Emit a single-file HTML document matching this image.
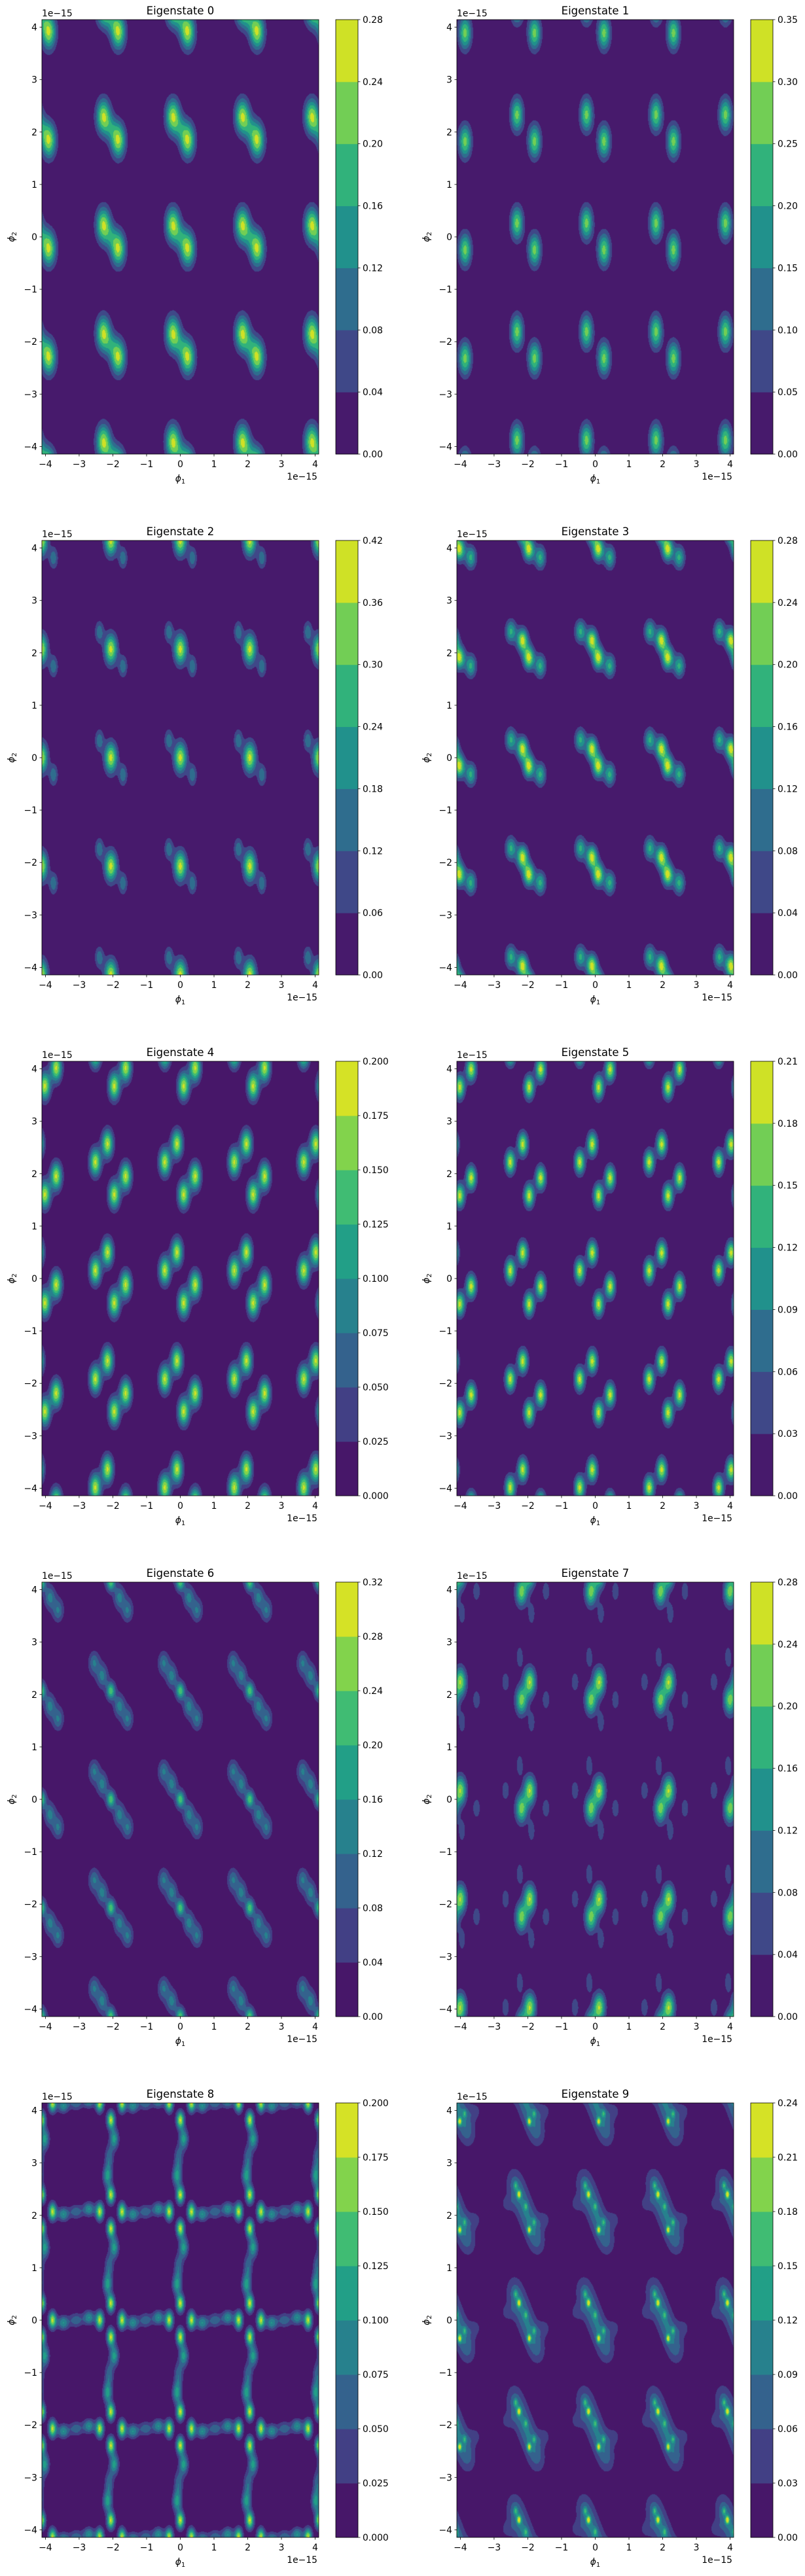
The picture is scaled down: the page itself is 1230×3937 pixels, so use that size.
<!DOCTYPE html>
<html><head><meta charset="utf-8">
<style>
html,body{margin:0;padding:0;background:#fff;}
#wrap{position:relative;width:1230px;height:3937px;overflow:hidden;}
canvas{position:absolute;}
svg{position:absolute;left:0;top:0;}
text{font-family:"DejaVu Sans","Liberation Sans",sans-serif;font-size:13.9px;fill:#000;}
</style></head>
<body>
<div id="wrap">
<svg id="ov" width="1230" height="3937"></svg>
</div>
<script>
// ---- chart data ----
const titles = ["Eigenstate 0","Eigenstate 1","Eigenstate 2","Eigenstate 3","Eigenstate 4","Eigenstate 5","Eigenstate 6","Eigenstate 7","Eigenstate 8","Eigenstate 9"];
const levelMax = [0.28,0.35,0.42,0.28,0.2,0.21,0.32,0.28,0.2,0.24];
const levelStep = [0.04,0.05,0.06,0.04,0.025,0.03,0.04,0.04,0.025,0.03];
const levelDecimals = [2,2,2,2,3,2,2,2,3,2];
const sigmaScale = [1.15,1.3,1.3,1.25,1.3,1.3,1.2,1.35,1.15,1.2];
const xTicks = [-4,-3,-2,-1,0,1,2,3,4];
const yTicks = [-4,-3,-2,-1,0,1,2,3,4];
const cellPeriodX = 2.06;
const cellPeriodY = 2.07;
// bumps per unit cell: [dx, dy, amplitude, sigmaX, sigmaY] (data units 1e-15)
const motif0 = [[-0.22,0.23,0.245,0.13,0.2],[0.22,-0.23,0.245,0.13,0.2],[0,0,0.08,0.12,0.15]];
const motif1 = [[-0.26,0.26,0.27,0.1,0.17],[0.26,-0.25,0.27,0.1,0.17]];
const motif2 = [[0,0,0.38,0.1,0.155],[-0.34,0.33,0.17,0.07,0.11],[0.36,-0.33,0.17,0.07,0.11]];
const motif3 = [[-0.44,0.34,0.17,0.09,0.12],[-0.1,0.17,0.26,0.09,0.12],[0.09,-0.16,0.26,0.09,0.12],[0.43,-0.32,0.17,0.09,0.12]];
const motif4 = [[-0.1,0.5,0.18,0.09,0.14],[-0.46,0.15,0.18,0.09,0.14],[0.44,-0.12,0.18,0.09,0.14],[0.1,-0.47,0.18,0.09,0.14]];
const motif5 = [[-0.09,0.49,0.19,0.08,0.12],[-0.46,0.15,0.19,0.08,0.12],[0.44,-0.15,0.19,0.08,0.12],[0.1,-0.49,0.19,0.08,0.12]];
const motif6 = [[-0.5,0.55,0.1,0.09,0.12],[-0.25,0.28,0.11,0.09,0.12],[0,0,0.2,0.07,0.09],[0.25,-0.28,0.11,0.09,0.12],[0.5,-0.55,0.1,0.09,0.12],
 [-0.4,0.42,0.035,0.17,0.17],[0,0,0.03,0.17,0.17],[0.4,-0.42,0.035,0.17,0.17]];
const motif7 = [[0.12,0.17,0.24,0.09,0.14],[-0.13,-0.18,0.22,0.09,0.14],[-0.6,0.17,0.08,0.06,0.1],[0.6,-0.17,0.08,0.06,0.1],[-0.18,0.65,0.07,0.06,0.12],[0.17,-0.6,0.07,0.06,0.12]];
const motif8 = [[0,0.32,0.18,0.07,0.1],[0,-0.32,0.18,0.07,0.1],[-0.33,0,0.18,0.07,0.1],[0.33,0,0.18,0.07,0.1],
 [-0.65,0.05,0.1,0.1,0.08],[0.65,-0.05,0.1,0.1,0.08],[-1.03,0,0.07,0.12,0.08],
 [-0.1,0.68,0.11,0.08,0.12],[0.1,-0.68,0.11,0.08,0.12],[-0.05,1.03,0.07,0.08,0.14]];
const motif9 = [[-0.36,0.6,0.045,0.15,0.17],[-0.24,0.4,0.045,0.15,0.17],[-0.12,0.2,0.045,0.15,0.17],[0,0,0.045,0.15,0.17],[0.12,-0.2,0.045,0.15,0.17],[0.24,-0.4,0.045,0.15,0.17],[0.36,-0.6,0.045,0.15,0.17],
 [-0.55,0.15,0.04,0.12,0.1],[0.55,-0.15,0.04,0.12,0.1],
 [-0.2,0.33,0.16,0.035,0.045],[0.1,-0.35,0.16,0.035,0.045],[-0.3,0.5,0.08,0.035,0.045],[0.25,-0.2,0.08,0.035,0.045],[0,0.1,0.08,0.035,0.045]];
const motifs = [motif0,motif1,motif2,motif3,motif4,motif5,motif6,motif7,motif8,motif9];

// ---- layout ----
const AX_W = 423, AX_H = 664;
const XMIN = -4.105, XMAX = 4.105, YMIN = -4.145, YMAX = 4.145;
const viridis = ["#440154","#482475","#414487","#355f8d","#2a788e","#21918c","#22a884","#44bf70","#7ad151","#bddf26","#fde725"];
function hex(c){return [parseInt(c.slice(1,3),16),parseInt(c.slice(3,5),16),parseInt(c.slice(5,7),16)];}
const vir = viridis.map(hex);
function cmap(t){
  t=Math.max(0,Math.min(1,t));const f=t*10;const i=Math.min(9,Math.floor(f));const u=f-i;
  return [0,1,2].map(k=>Math.round(vir[i][k]+(vir[i+1][k]-vir[i][k])*u));
}
function rgb(c){return "rgb("+c[0]+","+c[1]+","+c[2]+")";}
const NS="http://www.w3.org/2000/svg";
const ov=document.getElementById('ov');
const wrap=document.getElementById('wrap');
function mk(tag,attrs,parent){const e=document.createElementNS(NS,tag);for(const k in attrs)e.setAttribute(k,attrs[k]);(parent||ov).appendChild(e);return e;}
function fmt(v){return (v<0?"\u2212":"")+Math.abs(v);}

for(let p=0;p<10;p++){
  const col=p%2,row=Math.floor(p/2);
  const axL=64+634*col, axT=30+796*row;
  const xs=v=>axL+(v-XMIN)/(XMAX-XMIN)*AX_W;
  const ys=v=>axT+(YMAX-v)/(YMAX-YMIN)*AX_H;
  const step=levelStep[p], vmax=levelMax[p];
  const nb=Math.round(vmax/step);
  const bandColors=[];for(let i=0;i<nb;i++)bandColors.push(cmap((i+0.5)/nb));
  const ss=sigmaScale[p];

  // contour field
  const cv=document.createElement('canvas');
  cv.width=AX_W;cv.height=AX_H;cv.style.left=axL+'px';cv.style.top=axT+'px';
  
  
  wrap.insertBefore(cv,ov);
  const ctx=cv.getContext('2d');const img=ctx.createImageData(AX_W,AX_H);
  const m=motifs[p];
  const ex=m.map(b=>{const a=new Float32Array(AX_W);const s=b[3]*ss;for(let px=0;px<AX_W;px++){const x=XMIN+(px+0.5)/AX_W*(XMAX-XMIN);let d=x-b[0];d-=cellPeriodX*Math.round(d/cellPeriodX);a[px]=Math.exp(-d*d/(2*s*s));}return a;});
  const ey=m.map(b=>{const a=new Float32Array(AX_H);const s=b[4]*ss;for(let py=0;py<AX_H;py++){const y=YMAX-(py+0.5)/AX_H*(YMAX-YMIN);let d=y-b[1];d-=cellPeriodY*Math.round(d/cellPeriodY);a[py]=b[2]*Math.exp(-d*d/(2*s*s));}return a;});
  for(let py=0;py<AX_H;py++){for(let px=0;px<AX_W;px++){
    let v=0;for(let b=0;b<m.length;b++)v+=ex[b][px]*ey[b][py];
    let i=Math.floor(v/step);if(i<0)i=0;if(i>nb-1)i=nb-1;
    const c=bandColors[i];const o=(py*AX_W+px)*4;
    img.data[o]=c[0];img.data[o+1]=c[1];img.data[o+2]=c[2];img.data[o+3]=255;}}
  ctx.putImageData(img,0,0);

  const g=mk('g',{});
  
  
  const frame=mk('rect',{x:axL,y:axT,width:AX_W,height:AX_H,fill:'none',stroke:'#000','stroke-width':0.8},g);
  
  
  const title=mk('text',{x:axL+AX_W/2,y:axT-8,'text-anchor':'middle',style:'font-size:16.5px'},g);title.textContent=titles[p];
  
  
  xTicks.forEach(t=>{
    const X=xs(t);
    const tk=mk('line',{x1:X,x2:X,y1:axT+AX_H,y2:axT+AX_H+3.5,stroke:'#000','stroke-width':0.8},g);
    
    
    const tl=mk('text',{x:X,y:axT+AX_H+20,'text-anchor':'middle'},g);tl.textContent=fmt(t);
    
    
  });
  yTicks.forEach(t=>{
    const Y=ys(t);
    const tk=mk('line',{x1:axL-3.5,x2:axL,y1:Y,y2:Y,stroke:'#000','stroke-width':0.8},g);
    
    
    const tl=mk('text',{x:axL-7,y:Y+5,'text-anchor':'end'},g);tl.textContent=fmt(t);
    
    
  });
  const o1=mk('text',{x:axL,y:axT-5},g);o1.textContent="1e\u221215";
  
  
  const o2=mk('text',{x:axL+AX_W-2,y:axT+AX_H+39,'text-anchor':'end'},g);o2.textContent="1e\u221215";
  
  
  const xl=mk('text',{x:axL+AX_W/2,y:axT+AX_H+42,'text-anchor':'middle'},g);
  xl.innerHTML='<tspan font-style="italic">ϕ</tspan><tspan font-size="10" dy="3">1</tspan>';
  
  
  const yl=mk('text',{x:0,y:0,'text-anchor':'middle',transform:'translate('+(axL-42)+','+(axT+AX_H/2)+') rotate(-90)'},g);
  yl.innerHTML='<tspan font-style="italic">ϕ</tspan><tspan font-size="10" dy="3">2</tspan>';
  
  

  // colorbar
  const cbL=axL+449, cbW=34;
  const cb=mk('g',{},g);
  
  
  const cy=v=>axT+AX_H-(v/vmax)*AX_H;
  for(let i=0;i<nb;i++){
    const r=mk('rect',{x:cbL,y:cy((i+1)*step),width:cbW,height:cy(i*step)-cy((i+1)*step)+0.5,fill:rgb(bandColors[i])},cb);
    
    
  }
  const cf=mk('rect',{x:cbL,y:axT,width:cbW,height:AX_H,fill:'none',stroke:'#000','stroke-width':0.8},cb);
  
  
  for(let i=0;i<=nb;i++){
    const v=i*step,Y=cy(v);
    const tk=mk('line',{x1:cbL+cbW,x2:cbL+cbW+3.5,y1:Y,y2:Y,stroke:'#000','stroke-width':0.8},cb);
    
    
    const tl=mk('text',{x:cbL+cbW+7,y:Y+5},cb);tl.textContent=v.toFixed(levelDecimals[p]);
    
    
  }
}
</script>
</body></html>
